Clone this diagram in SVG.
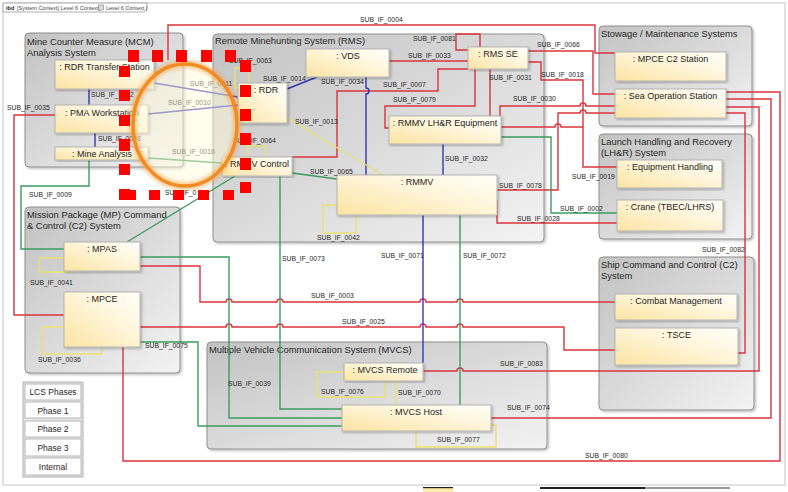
<svg xmlns="http://www.w3.org/2000/svg" width="788" height="492" viewBox="0 0 788 492">
<defs>
<linearGradient id="gg" x1="0" y1="0" x2="1" y2="1"><stop offset="0" stop-color="#c2c2c2"/><stop offset="1" stop-color="#f3f3f3"/></linearGradient>
<linearGradient id="ng" x1="0" y1="1" x2="1" y2="0"><stop offset="0" stop-color="#fbe3a2"/><stop offset="0.6" stop-color="#fff6dc"/><stop offset="1" stop-color="#fffefa"/></linearGradient>
<filter id="sh" x="-5%" y="-5%" width="115%" height="115%"><feDropShadow dx="1.5" dy="1.5" stdDeviation="1" flood-color="#000" flood-opacity="0.25"/></filter>
<filter id="glow" x="-20%" y="-20%" width="140%" height="140%"><feGaussianBlur stdDeviation="1.8"/></filter>
</defs>
<style>
.grp{fill:url(#gg);stroke:#8e8e8e;stroke-width:1;filter:url(#sh)}
.gt{font-family:"Liberation Sans",Arial,sans-serif;font-size:9.4px;fill:#262626}
.nd{fill:url(#ng);stroke:#b4b4b4;stroke-width:1;filter:url(#sh)}
.nt{font-family:"Liberation Sans",Arial,sans-serif;font-size:9px;fill:#262626;text-anchor:middle}
.lb{font-family:"Liberation Sans",Arial,sans-serif;font-size:6.8px;fill:#262626}
.c path{fill:none;stroke-width:1.4}
.r{stroke:#d9343d}
.b{stroke:#3535b2}
.g{stroke:#3c9c5e}
.y{stroke:#e8e272}
.lg{fill:#fff;stroke:#b8b8b8}
.lt{font-family:"Liberation Sans",Arial,sans-serif;font-size:8.5px;fill:#262626;text-anchor:middle}
.sq{fill:#ff0000}
</style>
<rect x="0" y="0" width="788" height="492" fill="#fff"/>
<rect x="3" y="3" width="782" height="482" fill="#fff" stroke="#c4c4c4"/>
<path d="M3 3 H147 V9 L144 12 H3 Z" fill="#fff" stroke="#9a9a9a" stroke-width="0.8"/>
<text x="6" y="9.5" font-family="Liberation Sans, Arial, sans-serif" font-size="5.5" font-weight="bold" fill="#222">ibd</text>
<text x="17" y="9.5" font-family="Liberation Sans, Arial, sans-serif" font-size="5.5" fill="#444">[System Context] Level 6 Context]</text>
<rect x="98.5" y="5" width="5" height="5" fill="#ddd" stroke="#666" stroke-width="0.5"/>
<text x="106" y="9.5" font-family="Liberation Sans, Arial, sans-serif" font-size="5.5" fill="#444">Level 6 Context ]</text>

<g id="g-mcm"><rect class="grp" x="25" y="33" width="158" height="134" rx="4"/><text class="gt" x="27" y="45">Mine Counter Measure (MCM)</text><text class="gt" x="27" y="56">Analysis System</text></g>
<g id="g-rms"><rect class="grp" x="213" y="34" width="331" height="208" rx="4"/><text class="gt" x="215" y="44">Remote Minehunting System (RMS)</text></g>
<g id="g-stow"><rect class="grp" x="599" y="26" width="153" height="100" rx="4"/><text class="gt" x="601" y="37">Stowage / Maintenance Systems</text></g>
<g id="g-lhr"><rect class="grp" x="599" y="134" width="153" height="105" rx="4"/><text class="gt" x="601" y="145">Launch Handling and Recovery</text><text class="gt" x="601" y="156">(LH&amp;R) System</text></g>
<g id="g-sc2"><rect class="grp" x="599" y="257" width="155" height="153" rx="4"/><text class="gt" x="601" y="268">Ship Command and Control (C2)</text><text class="gt" x="601" y="279">System</text></g>
<g id="g-mp"><rect class="grp" x="25" y="207" width="155" height="166" rx="4"/><text class="gt" x="27" y="218">Mission Package (MP) Command</text><text class="gt" x="27" y="229">&amp; Control (C2) System</text></g>
<g id="g-mvcs"><rect class="grp" x="207" y="342" width="340" height="107" rx="4"/><text class="gt" x="209" y="353">Multiple Vehicle Communication System (MVCS)</text></g>

<g id="connectors" class="c">
<path class="r" d="M168 60 V25 H595 V53 H615"/>
<path class="r" d="M55 115 H14 V315 H64"/>
<path class="r" d="M468 50 H456 V34 H480 V47"/>
<path class="r" d="M389 61 H468"/>
<path class="r" d="M528 51 H593 V94 H615"/>
<path class="r" d="M292 157 H337 V91 H438 V69 H468"/>
<path class="r" d="M389 128 H385 V106 H475 V69"/>
<path class="r" d="M490 69 V116"/>
<path class="r" d="M528 62 H541 V80 H583 V167 H617"/>
<path class="r" d="M501 127 H555 a3 3 0 0 1 6 0 H583"/>
<path class="r" d="M500 116 V106 H580 a3 3 0 0 1 6 0 H615"/>
<path class="r" d="M497 190 H558 V113 H580 a3 3 0 0 1 6 0 H615"/>
<path class="r" d="M497 200 V223 H617"/>
<path class="r" d="M140 266 H200 V302 H226 a3 3 0 0 1 6 0 H277 a3 3 0 0 1 6 0 H420 a3 3 0 0 1 6 0 H457 a3 3 0 0 1 6 0 H615"/>
<path class="r" d="M140 327 H226 a3 3 0 0 1 6 0 H277 a3 3 0 0 1 6 0 H420 a3 3 0 0 1 6 0 H457 a3 3 0 0 1 6 0 H564 V350 H615"/>
<path class="r" d="M423 371 H457 a3 3 0 0 1 6 0 H759 V107 H726"/>
<path class="r" d="M491 418 H771 V99 H726"/>
<path class="r" d="M123 347 V461 H780 V92 H726"/>
<path class="r" d="M738 353 H745 V113 H726"/>
<path class="b" d="M287 89 L317 77"/>
<path class="b" d="M366 77 V88 a3 3 0 0 1 0 6 V175"/>
<path class="b" d="M154 83 L238 97"/>
<path class="b" d="M148 114 L238 105"/>
<path class="b" d="M89 89 V105"/>
<path class="b" d="M95 133 V147"/>
<path class="b" d="M443 144 V175"/>
<path class="b" d="M423 215 V363"/>
<path class="g" d="M148 158 L222 163"/>
<path class="g" d="M89 160 V186 H21 V249 H64"/>
<path class="g" d="M127 242 L235 176"/>
<path class="g" d="M292 173 L337 179"/>
<path class="g" d="M280 176 V409 H342"/>
<path class="g" d="M140 257 H229 V418 H342"/>
<path class="g" d="M140 342 H198 V426 H342"/>
<path class="g" d="M460 215 V405"/>
<path class="g" d="M501 137 H551 V213 H617"/>
<path class="y" d="M238 88 H235 V68 H249 V83"/>
<path class="y" d="M247 157 V146 H265 V157"/>
<path class="y" d="M287 118 L383 175"/>
<path class="y" d="M337 205 H323 V233 H356 V215"/>
<path class="y" d="M64 258 H39 V272 H68 V271"/>
<path class="y" d="M64 327 H42 V354 H102 V347"/>
<path class="y" d="M396 381 V405"/>
<path class="y" d="M344 372 H317 V397 H385 V381"/>
<path class="y" d="M416 431 V447 H496 V425 H491"/>
</g>

<g id="n-rdrts"><rect class="nd" x="55" y="60" width="99" height="29"/><text class="nt" x="104.5" y="70">: RDR Transfer Station</text></g>
<g id="n-pma"><rect class="nd" x="55" y="105" width="93" height="28"/><text class="nt" x="102" y="116">: PMA Workstation</text></g>
<g id="n-mine"><rect class="nd" x="55" y="147" width="93" height="13"/><text class="nt" x="102" y="157">: Mine Analysis</text></g>
<g id="n-rdr"><rect class="nd" x="238" y="83" width="49" height="40"/><text class="nt" x="266" y="93">: RDR</text></g>
<g id="n-vds"><rect class="nd" x="306" y="49" width="83" height="28"/><text class="nt" x="348" y="59">: VDS</text></g>
<g id="n-rmmvc"><rect class="nd" x="222" y="157" width="70" height="19"/><text class="nt" x="257" y="167">: RMMV Control</text></g>
<g id="n-rmsse"><rect class="nd" x="468" y="47" width="60" height="22"/><text class="nt" x="498" y="57">: RMS SE</text></g>
<g id="n-lhr"><rect class="nd" x="389" y="116" width="112" height="28"/><text class="nt" x="445" y="126">: RMMV LH&amp;R Equipment</text></g>
<g id="n-rmmv"><rect class="nd" x="337" y="175" width="160" height="40"/><text class="nt" x="417" y="185">: RMMV</text></g>
<g id="n-mpcec2"><rect class="nd" x="615" y="52" width="111" height="29"/><text class="nt" x="670.5" y="62">: MPCE C2 Station</text></g>
<g id="n-seaop"><rect class="nd" x="615" y="89" width="111" height="29"/><text class="nt" x="670.5" y="99">: Sea Operation Station</text></g>
<g id="n-eqh"><rect class="nd" x="617" y="160" width="105" height="28"/><text class="nt" x="670" y="170">: Equipment Handling</text></g>
<g id="n-crane"><rect class="nd" x="617" y="200" width="106" height="31"/><text class="nt" x="670" y="210">: Crane (TBEC/LHRS)</text></g>
<g id="n-combat"><rect class="nd" x="615" y="294" width="122" height="26"/><text class="nt" x="676" y="304">: Combat Management</text></g>
<g id="n-tsce"><rect class="nd" x="615" y="328" width="123" height="37"/><text class="nt" x="676.5" y="338">: TSCE</text></g>
<g id="n-mpas"><rect class="nd" x="64" y="242" width="76" height="29"/><text class="nt" x="102" y="252">: MPAS</text></g>
<g id="n-mpce"><rect class="nd" x="64" y="292" width="76" height="55"/><text class="nt" x="102" y="302">: MPCE</text></g>
<g id="n-mvcsr"><rect class="nd" x="344" y="363" width="79" height="18"/><text class="nt" x="385" y="373">: MVCS Remote</text></g>
<g id="n-mvcsh"><rect class="nd" x="342" y="405" width="149" height="26"/><text class="nt" x="416" y="415">: MVCS Host</text></g>

<g id="labels">
<text class="lb" x="360" y="22">SUB_IF_0004</text>
<text class="lb" x="7" y="110">SUB_IF_0035</text>
<text class="lb" x="91" y="97">SUB_IF_0012</text>
<text class="lb" x="190" y="86">SUB_IF_0011</text>
<text class="lb" x="168" y="105">SUB_IF_0010</text>
<text class="lb" x="98" y="141">SUB_IF_0008</text>
<text class="lb" x="172" y="154">SUB_IF_0016</text>
<text class="lb" x="29" y="197">SUB_IF_0009</text>
<text class="lb" x="165" y="195">SUB_IF_0</text>
<text class="lb" x="229" y="63">SUB_IF_0063</text>
<text class="lb" x="263" y="81">SUB_IF_0014</text>
<text class="lb" x="321" y="84">SUB_IF_0034</text>
<text class="lb" x="295" y="124">SUB_IF_0013</text>
<text class="lb" x="233" y="143">SUB_IF_0064</text>
<text class="lb" x="310" y="174">SUB_IF_0065</text>
<text class="lb" x="317" y="240">SUB_IF_0042</text>
<text class="lb" x="413" y="41">SUB_IF_0081</text>
<text class="lb" x="408" y="58">SUB_IF_0033</text>
<text class="lb" x="383" y="87">SUB_IF_0007</text>
<text class="lb" x="393" y="102">SUB_IF_0079</text>
<text class="lb" x="489" y="80">SUB_IF_0031</text>
<text class="lb" x="537" y="47">SUB_IF_0066</text>
<text class="lb" x="541" y="77">SUB_IF_0018</text>
<text class="lb" x="513" y="101">SUB_IF_0030</text>
<text class="lb" x="445" y="161">SUB_IF_0032</text>
<text class="lb" x="499" y="188">SUB_IF_0078</text>
<text class="lb" x="560" y="211">SUB_IF_0002</text>
<text class="lb" x="572" y="179">SUB_IF_0019</text>
<text class="lb" x="517" y="221">SUB_IF_0028</text>
<text class="lb" x="30" y="285">SUB_IF_0041</text>
<text class="lb" x="38" y="362">SUB_IF_0036</text>
<text class="lb" x="145" y="348">SUB_IF_0075</text>
<text class="lb" x="282" y="261">SUB_IF_0073</text>
<text class="lb" x="381" y="258">SUB_IF_0071</text>
<text class="lb" x="463" y="258">SUB_IF_0072</text>
<text class="lb" x="311" y="298">SUB_IF_0003</text>
<text class="lb" x="342" y="324">SUB_IF_0025</text>
<text class="lb" x="228" y="386">SUB_IF_0039</text>
<text class="lb" x="321" y="394">SUB_IF_0076</text>
<text class="lb" x="398" y="395">SUB_IF_0070</text>
<text class="lb" x="500" y="366">SUB_IF_0083</text>
<text class="lb" x="507" y="410">SUB_IF_0074</text>
<text class="lb" x="437" y="442">SUB_IF_0077</text>
<text class="lb" x="585" y="458">SUB_IF_0080</text>
<text class="lb" x="702" y="252" font-size="6.2">SUB_IF_0082</text>
</g>

<g id="legend">
<rect x="23" y="382" width="60" height="95" fill="#e6e6e6" stroke="#b0b0b0"/>
<rect class="lg" x="25" y="384" width="56" height="16"/><text class="lt" x="53" y="395">LCS Phases</text>
<rect class="lg" x="25" y="402" width="56" height="16"/><text class="lt" x="53" y="414">Phase 1</text>
<rect class="lg" x="25" y="421" width="56" height="16"/><text class="lt" x="53" y="432">Phase 2</text>
<rect class="lg" x="25" y="439" width="56" height="17"/><text class="lt" x="53" y="451">Phase 3</text>
<rect class="lg" x="25" y="458" width="56" height="17"/><text class="lt" x="53" y="470">Internal</text>
</g>

<g id="magnifier">
<ellipse cx="185" cy="125" rx="52" ry="61" fill="#fffbdc" fill-opacity="0.5" stroke="#f7a040" stroke-width="9" stroke-opacity="0.45" filter="url(#glow)"/>
<ellipse cx="185" cy="125" rx="52" ry="61" fill="none" stroke="#f28c22" stroke-width="3.5"/>
</g>
<g id="selection" class="sq">
<rect x="128" y="50" width="11" height="12"/><rect x="152" y="50" width="11" height="12"/><rect x="176" y="50" width="11" height="12"/><rect x="201" y="50" width="11" height="12"/><rect x="225" y="50" width="11" height="12"/>
<rect x="119" y="66" width="11" height="11"/><rect x="119" y="90" width="11" height="11"/><rect x="119" y="115" width="11" height="11"/><rect x="119" y="139" width="11" height="12"/><rect x="119" y="164" width="11" height="11"/><rect x="119" y="189" width="11" height="11"/>
<rect x="125" y="190" width="11" height="10"/><rect x="149" y="190" width="11" height="10"/><rect x="173" y="190" width="11" height="10"/><rect x="198" y="190" width="11" height="10"/><rect x="223" y="190" width="11" height="10"/>
<rect x="240" y="60" width="11" height="12"/><rect x="240" y="85" width="11" height="12"/><rect x="240" y="109" width="11" height="12"/><rect x="240" y="133" width="11" height="12"/><rect x="240" y="158" width="11" height="12"/><rect x="240" y="182" width="11" height="11"/>
</g>
<g id="clip-edge">
<rect x="423" y="487" width="30" height="5" fill="#fde9a8"/><rect x="423" y="487" width="30" height="1.2" fill="#222"/>
<rect x="540" y="487" width="105" height="2" fill="#222"/><rect x="645" y="487" width="85" height="2" fill="#999"/>
</g>
</svg>
